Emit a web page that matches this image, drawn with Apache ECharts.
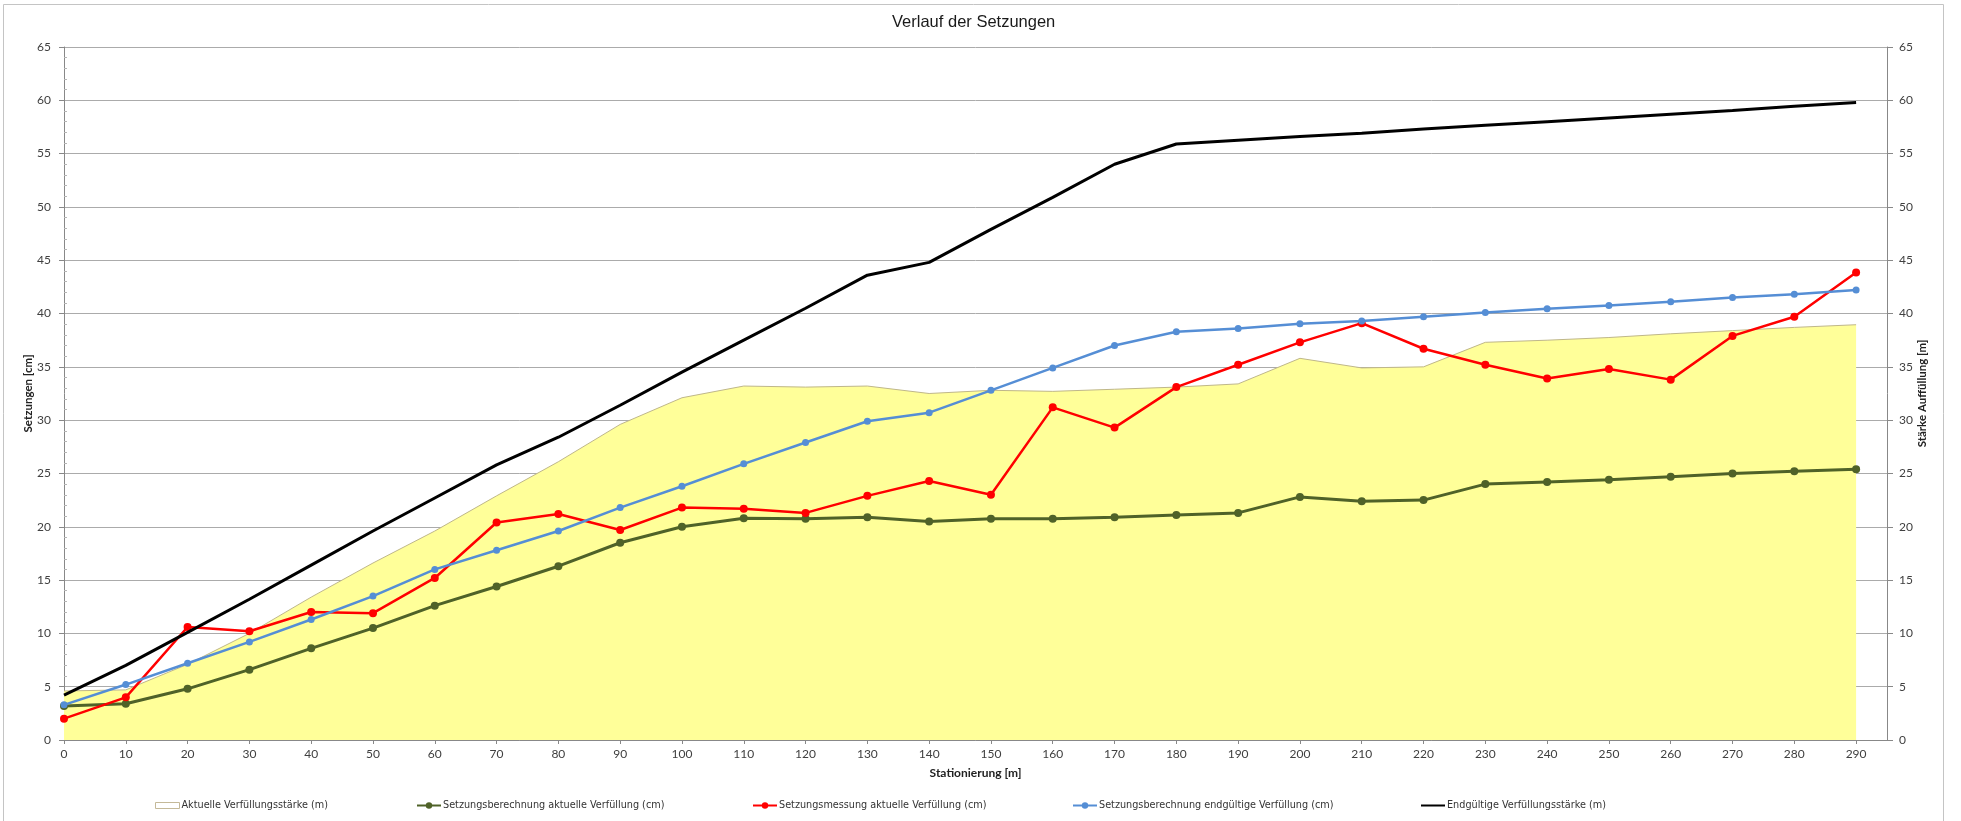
<!DOCTYPE html>
<html>
<head>
<meta charset="utf-8">
<script src="https://cdn.jsdelivr.net/npm/echarts@6/dist/echarts.min.js"></script>
<style>
html,body{margin:0;padding:0;background:#fff;}
#chart{width:1961px;height:821px;}
</style>
</head>
<body>
<div id="chart"></div>
<script>
const titleText = 'Verlauf der Setzungen';
const xName = 'Stationierung [m]';
const yLeftName = 'Setzungen [cm]';
const yRightName = 'Stärke Auffüllung [m]';
const seriesNames = [
  'Aktuelle Verfüllungsstärke (m)',
  'Setzungsberechnung aktuelle Verfüllung (cm)',
  'Setzungsmessung aktuelle Verfüllung (cm)',
  'Setzungsberechnung endgültige Verfüllung (cm)',
  'Endgültige Verfüllungsstärke (m)'
];
const stations = [0,10,20,30,40,50,60,70,80,90,100,110,120,130,140,150,160,170,180,190,200,210,220,230,240,250,260,270,280,290];
const fillCurrent = [4.6,4.7,7.1,10.0,13.4,16.6,19.6,22.9,26.1,29.6,32.1,33.2,33.1,33.2,32.5,32.8,32.7,32.9,33.1,33.4,35.8,34.9,35.0,37.3,37.5,37.75,38.1,38.4,38.7,38.95];
const calcCurrent = [3.2,3.4,4.8,6.6,8.6,10.5,12.6,14.4,16.3,18.5,20.0,20.8,20.75,20.9,20.5,20.75,20.75,20.9,21.1,21.3,22.8,22.4,22.5,24.0,24.2,24.4,24.7,25.0,25.2,25.4];
const measured = [2.0,4.0,10.6,10.2,12.0,11.9,15.2,20.4,21.2,19.7,21.8,21.7,21.3,22.9,24.3,23.0,31.2,29.3,33.1,35.2,37.3,39.1,36.7,35.2,33.9,34.8,33.8,37.9,39.7,43.85];
const calcFinal = [3.3,5.2,7.2,9.2,11.3,13.5,16.0,17.8,19.6,21.8,23.8,25.9,27.9,29.9,30.7,32.8,34.9,37.0,38.3,38.6,39.05,39.3,39.7,40.1,40.45,40.75,41.1,41.5,41.8,42.2];
const fillFinal = [4.2,7.0,10.1,13.2,16.4,19.6,22.7,25.8,28.4,31.4,34.5,37.5,40.5,43.6,44.8,47.9,50.9,54.0,55.9,56.25,56.6,56.9,57.3,57.65,58.0,58.35,58.7,59.05,59.45,59.8];

const pairs = arr => stations.map((s, i) => [s, arr[i]]);
const FONT = 'Lato, "Open Sans", sans-serif';
const NARROW = '"Liberation Sans Narrow", "DejaVu Sans Condensed", Lato, sans-serif';
const gridColor = '#ababab';
const axisColor = '#888888';
const labelColor = '#404040';

// fit legend font so the text widths match the reference layout
const legendTextWidths = [147, 222, 206, 235, 159];
const mctx = document.createElement('canvas').getContext('2d');
mctx.font = '12.5px ' + NARROW;
let measuredSum = 0;
seriesNames.forEach(n => { measuredSum += mctx.measureText(n).width; });
const targetSum = legendTextWidths.reduce((a, b) => a + b, 0);
const legendFontSize = Math.max(9, Math.min(14, 12.5 * targetSum / measuredSum));

const legendLefts = [155, 416, 752, 1072, 1420];
const legends = seriesNames.map((n, i) => ({
  data: [n],
  left: legendLefts[i],
  top: 800,
  padding: 0,
  itemWidth: 24,
  itemHeight: i === 0 ? 6 : 8,
  textStyle: {fontFamily: NARROW, fontSize: legendFontSize, color: '#333', padding: [0,0,0,-3]},
  selectedMode: false
}));
legends[0].data = [{name: seriesNames[0], icon: 'rect', itemStyle: {color: '#ffffff', borderColor: '#C4B998', borderWidth: 1}}];
legends[4].itemStyle = {opacity: 0};

const chart = echarts.init(document.getElementById('chart'), null, {renderer: 'canvas'});
chart.setOption({
  backgroundColor: '#fff',
  animation: false,
  title: {
    text: titleText,
    left: 892, top: 14, padding: 0,
    textStyle: {fontFamily: '"Liberation Sans", Arial, sans-serif', fontSize: 16.5, fontWeight: 'normal', color: '#1a1a1a'}
  },
  legend: legends,
  graphic: [{
    type: 'rect', silent: true, z: -1,
    shape: {x: 3.5, y: 4.5, width: 1940, height: 830},
    style: {fill: 'none', stroke: '#c4c4c4', lineWidth: 1}
  }],
  grid: {left: 64, right: 74, top: 47, height: 693, containLabel: false},
  xAxis: {
    type: 'value', min: 0, max: 295, interval: 10,
    name: xName, nameLocation: 'middle', nameGap: 27, nameMoveOverlap: false,
    nameTextStyle: {fontFamily: FONT, fontSize: 12, fontWeight: 'bold', color: '#222'},
    axisLine: {show: true, lineStyle: {color: axisColor, width: 1}},
    axisTick: {show: true, length: 4, lineStyle: {color: axisColor}, customValues: stations},
    axisLabel: {fontFamily: FONT, fontSize: 12, color: labelColor, margin: 8, customValues: stations},
    splitLine: {show: false}
  },
  yAxis: [{
    type: 'value', min: 0, max: 65, interval: 5, position: 'left',
    name: yLeftName, nameLocation: 'middle', nameGap: 36, nameRotate: 90, nameMoveOverlap: false,
    nameTextStyle: {fontFamily: FONT, fontSize: 11.5, fontWeight: 'bold', color: '#222', verticalAlign: 'middle', align: 'center'},
    axisLine: {show: true, lineStyle: {color: axisColor, width: 1}},
    axisTick: {show: true, length: 5, lineStyle: {color: axisColor}},
    minorTick: {show: true, splitNumber: 5, length: -3, lineStyle: {color: '#b5b5b5'}},
    axisLabel: {fontFamily: FONT, fontSize: 12, color: labelColor, margin: 13},
    splitLine: {show: true, lineStyle: {color: gridColor, width: 1}}
  }, {
    type: 'value', min: 0, max: 65, interval: 5, position: 'right',
    name: yRightName, nameLocation: 'middle', nameGap: 35, nameRotate: 90, nameMoveOverlap: false,
    nameTextStyle: {fontFamily: FONT, fontSize: 11.5, fontWeight: 'bold', color: '#222', verticalAlign: 'middle', align: 'center'},
    axisLine: {show: true, lineStyle: {color: axisColor, width: 1}},
    axisTick: {show: true, length: 6, lineStyle: {color: axisColor}},
    axisLabel: {fontFamily: FONT, fontSize: 12, color: labelColor, margin: 12},
    splitLine: {show: false}
  }],
  series: [{
    name: seriesNames[0], type: 'line', yAxisIndex: 1, data: pairs(fillCurrent),
    symbol: 'none', z: 1,
    lineStyle: {color: '#BFB78A', width: 1},
    itemStyle: {color: '#FFFF99'},
    areaStyle: {color: '#FFFF99', opacity: 1}
  }, {
    name: seriesNames[1], type: 'line', data: pairs(calcCurrent),
    symbol: 'circle', symbolSize: 8, z: 3,
    lineStyle: {color: '#4F6228', width: 3},
    itemStyle: {color: '#4F6228'}
  }, {
    name: seriesNames[2], type: 'line', data: pairs(measured),
    symbol: 'circle', symbolSize: 8, z: 4,
    lineStyle: {color: '#FF0000', width: 2.5},
    itemStyle: {color: '#FF0000'}
  }, {
    name: seriesNames[3], type: 'line', data: pairs(calcFinal),
    symbol: 'circle', symbolSize: 7, z: 5,
    lineStyle: {color: '#558ED5', width: 2.5},
    itemStyle: {color: '#558ED5'}
  }, {
    name: seriesNames[4], type: 'line', yAxisIndex: 1, data: pairs(fillFinal),
    symbol: 'none', z: 6,
    lineStyle: {color: '#000000', width: 3},
    itemStyle: {color: '#000000'}
  }]
});
</script>
</body>
</html>
